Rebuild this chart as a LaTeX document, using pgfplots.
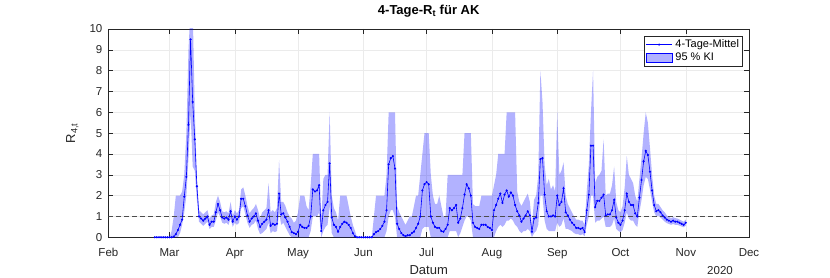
\documentclass[border=0pt]{standalone}
\usepackage{pgfplots}
\pgfplotsset{compat=1.18}
\usepackage{pgfplotstable}
\usepgfplotslibrary{fillbetween}
\usepackage{fontspec}
\setmainfont{Liberation Sans}
\pgfplotstableread{
d m lo up
22 0 0 0
23 0 0 0
24 0 0 0
25 0 0 0
26 0 0 0
27 0 0 0
28 0 0 0
29 0 0 0
30 0 0 0.3
31 0.03 0 1.0
32 0.15 0 2.0
33 0.35 0 2.0
34 0.6 0.2 2.0
35 0.85 0.6 2.2
36 1.95 1.2 3.0
37 2.9 2.0 5.0
38 5.4 3.8 9.0
39 9.5 6.0 11
40 6.5 3.4 11
41 4.7 3.2 6.0
42 2.45 1.8 2.8
43 1.0 0.75 1.3
44 0.9 0.65 1.2
45 0.8 0.55 1.1
46 0.9 0.65 1.2
47 1.0 0.75 1.3
48 0.6 0.4 0.9
49 0.75 0.5 1.05
50 0.75 0.5 1.1
51 1.2 0.8 1.7
52 1.6 1.2 2.0
53 1.3 1.0 1.7
54 0.95 0.7 1.25
55 0.9 0.65 1.2
56 0.95 0.7 1.25
57 0.85 0.6 1.15
58 1.25 0.9 1.7
59 0.75 0.5 1.05
60 1.0 0.7 1.3
61 0.85 0.6 1.15
62 1.0 0.7 1.3
63 1.85 1.4 2.3
64 1.85 1.5 2.4
65 1.5 1.1 2.0
66 1.05 0.7 1.5
67 0.75 0.45 1.15
68 0.9 0.6 1.3
69 1.0 0.65 1.4
70 1.15 0.8 1.6
71 0.8 0.4 1.3
72 0.5 0.15 0.9
73 0.65 0.2 1.2
74 0.75 0.3 1.3
75 0.85 0.4 1.4
76 1.3 0.7 2.6
77 0.55 0.2 1.2
78 0.65 0.3 1.3
79 0.6 0.25 1.2
80 0.65 0.3 1.4
81 2.1 1.2 3.7
82 1.1 0.6 1.7
83 1.15 0.7 1.7
84 0.95 0.5 1.5
85 0.75 0.3 1.2
86 0.5 0.1 1.0
87 0.25 0 0.9
88 0.2 0 0.7
89 0.15 0 0.8
90 0.27 0 1.2
91 0.6 0 2.0
92 0.5 0 2.0
93 0.45 0 2.0
94 0.45 0 1.5
95 0.55 0 1.3
96 1.0 0.3 2.5
97 2.3 1.0 4.0
98 2.2 1.0 4.0
99 2.25 1.0 4.0
100 2.5 1.2 4.0
101 0.3 0 0.8
102 1.3 0.3 2.8
103 1.55 0.5 3.0
104 1.7 0.6 3.0
105 3.55 1.5 6.0
106 0.95 0.2 2.0
107 0.6 0 1.4
108 0.5 0 1.2
109 0.27 0 0.8
110 0.5 0 2.0
111 0.65 0 2.0
112 0.75 0 2.0
113 0.7 0 2.0
114 0.6 0 1.5
115 0.45 0 1.0
116 0.2 0 0.6
117 0.05 0 0.3
118 0 0 0
119 0 0 0
120 0 0 0
121 0 0 0
122 0 0 0
123 0 0 0
124 0 0 0
125 0 0 0
126 0.15 0 1.0
127 0.25 0 2.0
128 0.3 0 2.0
129 0.4 0 2.0
130 0.55 0 2.0
131 0.75 0 2.0
132 1.3 0.3 3.0
133 3.5 1.0 6.0
134 3.8 1.3 6.0
135 3.9 1.3 6.0
136 3.3 1.0 6.0
137 0.65 0 1.5
138 0.4 0 1.2
139 0.2 0 1.0
140 0.1 0 0.8
141 0.05 0 0.6
142 0.1 0 0.8
143 0.1 0 1.0
144 0.2 0 1.0
145 0.27 0 1.5
146 0.45 0 2.0
147 0.65 0 2.0
148 1.0 0 3.0
149 2.25 0.4 4.0
150 2.55 0.5 5.0
151 2.65 0.5 5.0
152 2.55 0.5 5.0
153 1.0 0 3.0
154 0.7 0 2.0
155 0.5 0 1.6
156 0.45 0 1.6
157 0.45 0 2.0
158 0.3 0 1.5
159 0.27 0 1.0
160 0.4 0 1.0
161 0.6 0 3.0
162 1.4 0.3 3.0
163 1.3 0.3 3.0
164 1.4 0.3 3.0
165 1.55 0.3 3.0
166 0.7 0 3.0
167 0.9 0.2 3.0
168 1.4 0.5 3.0
169 2.05 0.8 5.0
170 2.55 1.0 5.0
171 2.35 1.0 5.0
172 2.0 0.8 5.0
173 0.7 0 1.6
174 0.5 0 1.5
175 0.45 0 1.5
176 0.4 0 1.5
177 0.6 0 2.0
178 0.6 0 2.0
179 0.6 0 2.0
180 0.5 0 2.0
181 0.45 0 2.0
182 0.35 0 2.0
183 1.3 0 2.5
184 1.55 0.3 3.0
185 1.85 0.5 4.0
186 2.1 0.6 4.0
187 1.65 0.5 4.0
188 2.05 0.6 4.0
189 2.25 0.8 6.0
190 1.95 0.8 6.0
191 2.15 0.9 6.0
192 2.0 0.8 6.0
193 1.55 0.6 6.0
194 1.25 0.5 2.2
195 1.05 0.3 1.7
196 0.75 0.2 1.5
197 0.9 0.3 1.7
198 1.05 0.3 1.9
199 1.25 0.4 2.1
200 1.05 0.3 1.7
201 0.27 0 0.6
202 0.9 0.2 1.8
203 0.95 0.3 2.0
204 1.65 0.6 3.0
205 3.75 2.0 8.0
206 3.8 2.0 6.5
207 2.05 0.8 3.5
208 1.25 0.4 2.5
209 1.0 0.3 2.8
210 1.0 0.3 2.3
211 1.05 0.3 2.5
212 1.0 0.3 2.2
213 2.0 0.7 6.0
214 1.55 0.5 3.0
215 1.7 0.6 3.2
216 2.35 0.9 3.6
217 1.2 0.4 2.0
218 1.05 0.4 1.6
219 0.85 0.35 1.4
220 0.7 0.3 1.2
221 0.6 0.2 1.0
222 0.45 0.15 0.85
223 0.45 0.15 0.85
224 0.4 0.1 0.8
225 0.45 0.15 0.8
226 0.25 0.05 0.6
227 1.3 0.6 2.2
228 2.05 1.0 3.5
229 4.4 2.0 6.0
230 4.4 2.0 8.0
231 1.45 0.7 2.6
232 1.75 0.8 2.9
233 1.75 0.8 3.0
234 1.9 0.9 3.2
235 2.05 1.0 4.7
236 1.05 0.5 2.0
237 1.1 0.5 2.1
238 1.1 0.5 2.1
239 1.3 0.6 2.5
240 1.8 0.9 3.4
241 0.95 0.4 1.7
242 0.7 0.3 1.3
243 0.6 0.25 1.2
244 0.8 0.35 1.5
245 1.3 0.7 2.4
246 2.1 1.2 3.9
247 1.7 0.9 3.0
248 1.55 0.8 2.8
249 1.55 0.8 2.6
250 1.15 0.6 2.0
251 1.0 0.5 1.7
252 1.9 1.2 2.8
253 2.75 1.8 3.8
254 3.65 2.5 5.0
255 4.15 2.9 6.0
256 3.95 2.8 5.5
257 3.15 2.3 4.3
258 2.25 1.7 3.0
259 1.55 1.2 2.0
260 1.25 1.0 1.6
261 1.3 1.05 1.6
262 1.2 0.95 1.45
263 1.05 0.85 1.3
264 0.95 0.75 1.2
265 0.85 0.68 1.05
266 0.8 0.64 0.98
267 0.75 0.6 0.92
268 0.8 0.64 0.97
269 0.75 0.6 0.92
270 0.75 0.6 0.9
271 0.7 0.56 0.85
272 0.65 0.52 0.8
273 0.6 0.48 0.75
274 0.7 0.56 0.85
}\data
\begin{document}
\begin{tikzpicture}
\begin{axis}[
  at={(0pt,0pt)}, anchor=south west,
  scale only axis, width=640.6pt, height=208.3pt,
  xmin=0, xmax=304, ymin=0, ymax=10,
  xtick={0,29,60,90,121,151,182,213,243,274,304},
  xticklabels={Feb,Mar,Apr,May,Jun,Jul,Aug,Sep,Oct,Nov,Dec},
  ytick={0,1,...,10},
  grid=major, grid style={black!8, line width=0.5pt},
  axis line style={black!85, line width=0.6pt},
  tick align=inside, major tick length=5pt,
  tick style={black!85, line width=0.5pt},
  tick label style={black!85, font=\fontsize{11.5}{13}\selectfont},
  /pgf/number format/assume math mode=true,
  xticklabel style={anchor=base, yshift=-19pt},
  yticklabel style={xshift=-2.5pt},
  title={4-Tage-R\textsubscript{t} für AK},
  title style={font=\bfseries\fontsize{13}{15}\selectfont, at={(0.5,1)}, anchor=base, yshift=8pt},
  xlabel={Datum},
  xlabel style={font=\fontsize{13}{15}\selectfont, black!85, at={(0.5,0)}, anchor=base, yshift=-37.5pt},
  ylabel={R\textsubscript{4,t}},
  ylabel style={font=\fontsize{13}{15}\selectfont, black!85, at={(-0.0562,0.5)}, anchor=center},
  legend style={at={(0.9902,0.966)}, anchor=north east, draw=black!85, line width=0.5pt,
    font=\fontsize{11}{13}\selectfont, inner sep=1.5pt, row sep=0pt},
  legend cell align=left,
]
\addplot[name path=up, draw=none, forget plot] table[x=d, y=up] {\data};
\addplot[name path=lo, draw=none, forget plot] table[x=d, y=lo] {\data};
\addplot[fill=blue, fill opacity=0.3, draw=none, forget plot] fill between[of=up and lo];
\addplot[black!70, line width=0.6pt, dash pattern=on 5pt off 3pt, forget plot] coordinates {(0,1) (304,1)};
\addplot[blue, line width=0.6pt, mark=*, mark size=0.75pt, forget plot] table[x=d, y=m] {\data};
\addlegendimage{legend image code/.code={\draw[blue, line width=0.6pt] (-2pt,0pt) -- (24pt,0pt); \fill[blue] (11pt,0pt) circle (0.8pt);}}
\addlegendentry{\hspace{1pt}4-Tage-Mittel}
\addlegendimage{legend image code/.code={\fill[blue, fill opacity=0.3] (-2pt,-4.5pt) rectangle (24pt,4.5pt);}}
\addlegendentry{\hspace{1pt}95 \% KI}
\end{axis}
\node[font=\fontsize{11.5}{13}\selectfont, text=black!85] at (611.6pt,-33pt) {2020};
\pgfresetboundingbox
\path[use as bounding box] (-108.4pt,-40.7pt) rectangle (721.6pt,237.3pt);
\end{tikzpicture}
\end{document}
